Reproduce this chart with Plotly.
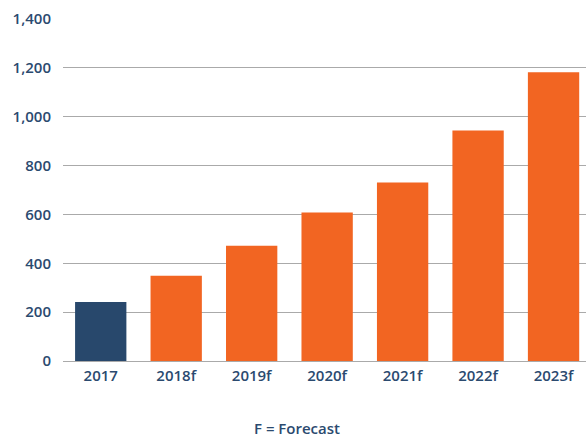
import plotly.graph_objects as go

categories = ["2017", "2018f", "2019f", "2020f", "2021f", "2022f", "2023f"]
values = [242, 349, 472, 608, 731, 944, 1182]
colors = ["#28486c"] + ["#f26522"] * 6
tick_vals = [0, 200, 400, 600, 800, 1000, 1200, 1400]
tick_text = ["0", "200", "400", "600", "800", "1,000", "1,200", "1,400"]
note = "F = Forecast"

text_color = "#2b4a6f"
font = dict(family="Open Sans", size=15, color=text_color, weight=600)

fig = go.Figure(go.Bar(x=categories, y=values, marker=dict(color=colors, line=dict(width=0)),
                       hoverinfo="skip"))

fig.update_layout(
    width=586, height=437,
    margin=dict(l=63, r=0, t=19, b=76),
    plot_bgcolor="white", paper_bgcolor="white",
    bargap=0.32, showlegend=False,
    font=font,
    xaxis=dict(type="category", range=[-0.5, 6.43], showgrid=False, showline=False,
               ticks="", tickfont=font, ticklabelstandoff=4, fixedrange=True),
    yaxis=dict(range=[0, 1400], tickvals=tick_vals, ticktext=tick_text, showgrid=True,
               gridcolor="#aaaaaa", gridwidth=1, zeroline=True, zerolinecolor="#aaaaaa",
               zerolinewidth=1, showline=False, ticks="", tickfont=font,
               ticklabelstandoff=11, fixedrange=True),
    annotations=[dict(text=note, xref="paper", yref="paper", x=0.447, y=0, yshift=-67,
                      showarrow=False, xanchor="center", yanchor="middle", font=font)],
)

fig.write_html("out.html", config={"displayModeBar": False},
               post_script="document.body.style.margin='0';document.body.style.overflow='hidden';")
